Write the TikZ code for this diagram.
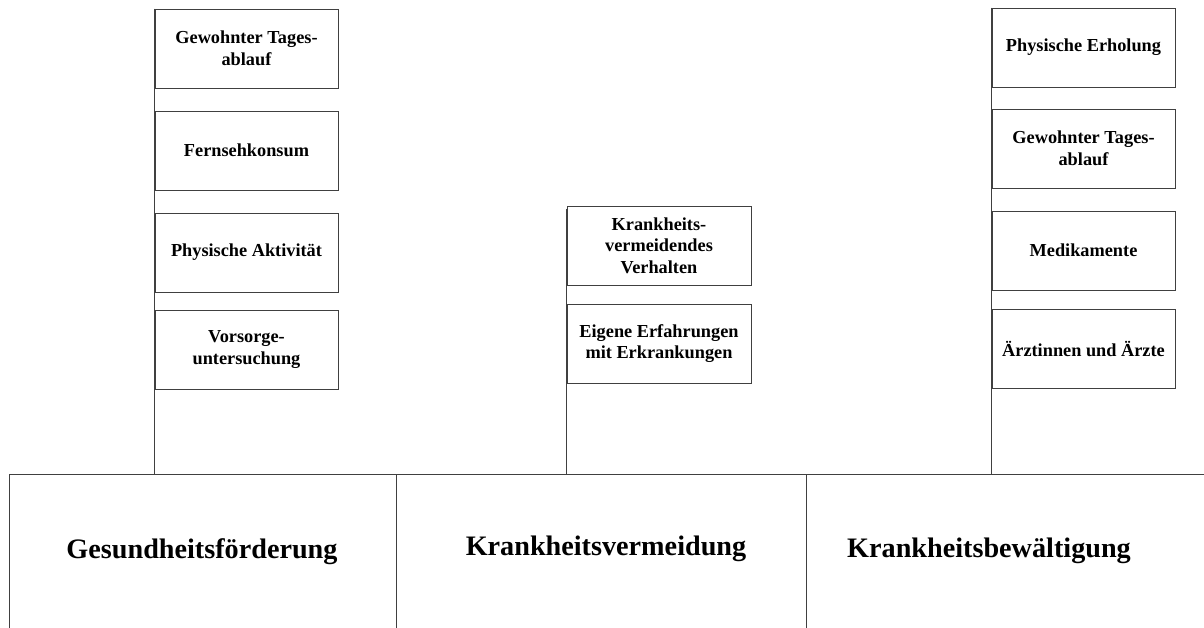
\documentclass[tikz,border=0pt]{standalone}
\usepackage{fontspec}
\setmainfont{Liberation Serif}
\begin{document}
\begin{tikzpicture}[x=1pt,y=-1pt,
  line/.style={draw=black!75,line width=0.9pt},
  item/.style={line,rectangle,minimum width=183pt,minimum height=79pt,inner sep=0pt,
    align=center,font=\fontsize{18.3}{21.5}\selectfont\bfseries},
  cell/.style={line,rectangle,inner sep=0pt,anchor=north west},
  area/.style={font=\fontsize{28.2}{32}\selectfont\bfseries}]
\useasboundingbox (0,0) rectangle (1204,628);

% bottom row of three fields, running off the lower edge
\node[cell,minimum width=387pt,minimum height=170pt] (c1) at (9,474) {};
\node[cell,minimum width=410pt,minimum height=170pt] (c2) at (396,474) {};
\node[cell,minimum width=430pt,minimum height=170pt] (c3) at (806,474) {};
\node[area] (t1) at (202,552) {Gesundheitsförderung};
\node[area] (t2) at (606,549) {Krankheitsvermeidung};
\node[area] (t3) at (989,551) {Krankheitsbewältigung};

% left column
\node[item] (a1) at (246.5,48.5) {Gewohnter Tages-\\ablauf};
\node[item] (a2) at (246.5,150.5) {Fernsehkonsum};
\node[item] (a3) at (246.5,252.5) {Physische Aktivität};
\node[item] (a4) at (246.5,349.5) {Vorsorge-\\untersuchung};

% middle column
\node[item,minimum width=184pt] (b1) at (659,245.5) {Krankheits-\\vermeidendes\\Verhalten};
\node[item,minimum width=184pt] (b2) at (659,343.5) {Eigene Erfahrungen\\mit Erkrankungen};

% right column
\node[item] (d1) at (1083.5,47.5) {Physische Erholung};
\node[item] (d2) at (1083.5,148.5) {Gewohnter Tages-\\ablauf};
\node[item] (d3) at (1083.5,250.5) {Medikamente};
\node[item] (d4) at (1083.5,348.5) {Ärztinnen und Ärzte};

% poles from the top box down to the fields
\draw[line] (a1.north west) -- (a1.north west |- c1.north);
\draw[line] ([yshift=-3pt]b1.north west) -- (b1.north west |- c2.north);
\draw[line] (d1.north west) -- (d1.north west |- c3.north);
\end{tikzpicture}
\end{document}
